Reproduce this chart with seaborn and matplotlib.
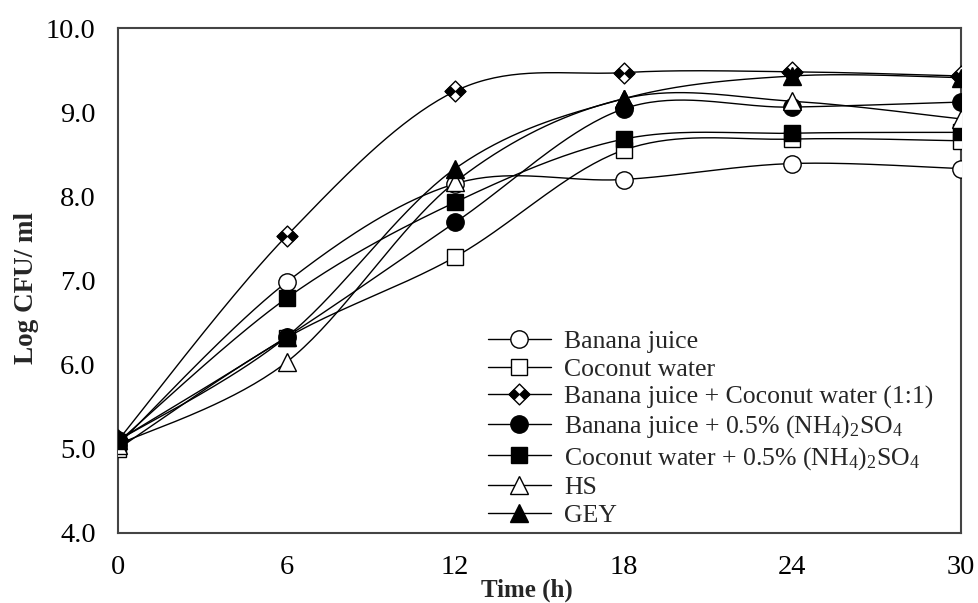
import numpy as np
import pandas as pd
import seaborn as sns
import matplotlib
matplotlib.use("Agg")
import matplotlib.pyplot as plt
from matplotlib.path import Path
from matplotlib.lines import Line2D
from matplotlib.legend_handler import HandlerTuple

# Sampling times (h) and viable counts (log CFU/ml) for each medium
time_h = [0, 6, 12, 18, 24, 30]
banana_juice = [5.05, 6.98, 8.15, 8.20, 8.39, 8.33]
coconut_water = [5.00, 6.32, 7.28, 8.55, 8.68, 8.66]
banana_coconut = [5.10, 7.53, 9.25, 9.47, 9.48, 9.43]
banana_nh4 = [5.10, 6.33, 7.69, 9.04, 9.06, 9.12]
coconut_nh4 = [5.08, 6.79, 7.93, 8.68, 8.75, 8.76]
hs_medium = [5.05, 6.03, 8.17, 9.16, 9.13, 8.92]
gey_medium = [5.10, 6.33, 8.33, 9.16, 9.43, 9.41]

labels = [
    "Banana juice",
    "Coconut water",
    "Banana juice + Coconut water (1:1)",
    r"Banana juice + 0.5% (NH$_4$)$_2$SO$_4$",
    r"Coconut water + 0.5% (NH$_4$)$_2$SO$_4$",
    "HS",
    "GEY",
]
series = [banana_juice, coconut_water, banana_coconut, banana_nh4,
          coconut_nh4, hs_medium, gey_medium]

sns.set_theme(style="white")
plt.rcParams["font.family"] = ["Liberation Serif", "DejaVu Serif"]
plt.rcParams["mathtext.fontset"] = "custom"
plt.rcParams["mathtext.rm"] = "Liberation Serif"
plt.rcParams["mathtext.it"] = "Liberation Serif:italic"
plt.rcParams["mathtext.bf"] = "Liberation Serif:bold"

# Marker shapes: diamond outline and its two black side panels
diamond = Path([(0, 1), (1, 0), (0, -1), (-1, 0), (0, 1)],
               [Path.MOVETO, Path.LINETO, Path.LINETO, Path.LINETO, Path.CLOSEPOLY])
bowtie = Path([(-1, 0), (-0.5, 0.5), (0, 0), (-0.5, -0.5), (-1, 0),
               (1, 0), (0.5, -0.5), (0, 0), (0.5, 0.5), (1, 0)],
              [Path.MOVETO, Path.LINETO, Path.LINETO, Path.LINETO, Path.CLOSEPOLY,
               Path.MOVETO, Path.LINETO, Path.LINETO, Path.LINETO, Path.CLOSEPOLY])

styles = [
    dict(marker="o", fc="white", ms=12.5),
    dict(marker="s", fc="white", ms=11.5),
    dict(marker="diamond", fc="white", ms=15),
    dict(marker="o", fc="black", ms=12.5),
    dict(marker="s", fc="black", ms=11.5),
    dict(marker="^", fc="white", ms=13),
    dict(marker="^", fc="black", ms=13),
]


def smooth_curve(x, y, n=40):
    """Catmull-Rom style Bezier smoothing through the measured points."""
    p = np.column_stack([x, y]).astype(float)
    ext = np.vstack([p[0], p, p[-1]])
    xs, ys = [], []
    t = np.linspace(0, 1, n)
    for i in range(len(p) - 1):
        p0, p1, p2, p3 = ext[i], ext[i + 1], ext[i + 2], ext[i + 3]
        c1 = p1 + (p2 - p0) / 6.0
        c2 = p2 - (p3 - p1) / 6.0
        b = ((1 - t) ** 3)[:, None] * p1 + (3 * (1 - t) ** 2 * t)[:, None] * c1 \
            + (3 * (1 - t) * t ** 2)[:, None] * c2 + (t ** 3)[:, None] * p2
        xs.extend(b[:, 0])
        ys.extend(b[:, 1])
    return np.array(xs), np.array(ys)


fig = plt.figure(figsize=(9.79, 6.03), dpi=100)
ax = fig.add_axes([118 / 979, 1 - 533 / 603, (961 - 118) / 979, (533 - 28) / 603])

for vals in series:
    sx, sy = smooth_curve(time_h, vals)
    curve = pd.DataFrame({"t": sx, "v": sy})
    sns.lineplot(data=curve, x="t", y="v", sort=False, estimator=None,
                 color="black", lw=1.0, ax=ax, zorder=2)

handles = []
for vals, st in zip(series, styles):
    if st["marker"] == "diamond":
        ax.plot(time_h, vals, ls="none", marker=diamond, ms=st["ms"],
                mfc="white", mec="black", mew=1.0, zorder=3)
        ax.plot(time_h, vals, ls="none", marker=bowtie, ms=st["ms"],
                mfc="black", mec="black", mew=0.6, zorder=3)
        h = (Line2D([], [], color="black", lw=1.0, marker=diamond, ms=st["ms"],
                    mfc="white", mec="black", mew=1.0),
             Line2D([], [], ls="none", marker=bowtie, ms=st["ms"],
                    mfc="black", mec="black", mew=0.6))
    else:
        ax.plot(time_h, vals, ls="none", marker=st["marker"], ms=st["ms"],
                mfc=st["fc"], mec="black", mew=1.0, zorder=3)
        h = Line2D([], [], color="black", lw=1.0, marker=st["marker"], ms=st["ms"],
                   mfc=st["fc"], mec="black", mew=1.0)
    handles.append(h)

ax.set_xlim(0, 30)
ax.set_ylim(4.0, 10.0)
ax.set_xticks(time_h)
ax.set_xticklabels([str(t) for t in time_h])
yt = np.arange(4.0, 10.01, 1.0)
ax.set_yticks(yt)
ax.set_yticklabels([f"{v:.1f}" for v in yt])
ax.tick_params(axis="both", labelsize=20.5, colors="#333333", labelcolor="black")
ax.tick_params(axis="y", direction="out", length=7, width=1.2, pad=9)
ax.tick_params(axis="x", direction="inout", length=10, width=1.2, pad=11)

for s in ax.spines.values():
    s.set_color("#444444")
    s.set_linewidth(1.5)

ax.set_xlabel("Time (h)", fontsize=18, fontweight="bold")
ax.set_ylabel("Log CFU/ ml", fontsize=19.5, fontweight="bold")
ax.xaxis.set_label_coords((527 - 118) / 843, -(579 - 533) / 505)
ax.yaxis.set_label_coords(-(118 - 39) / 843, (533 - 288) / 505)

leg = ax.legend(handles, labels, loc="upper left",
                bbox_to_anchor=(488 / 979, 1 - 330 / 603),
                bbox_transform=fig.transFigure, frameon=False,
                fontsize=18.5, handlelength=2.45, handletextpad=0.5,
                labelspacing=0.18, borderpad=0, borderaxespad=0,
                handler_map={tuple: HandlerTuple(ndivide=1)})

fig.savefig("out.png", dpi=100)
